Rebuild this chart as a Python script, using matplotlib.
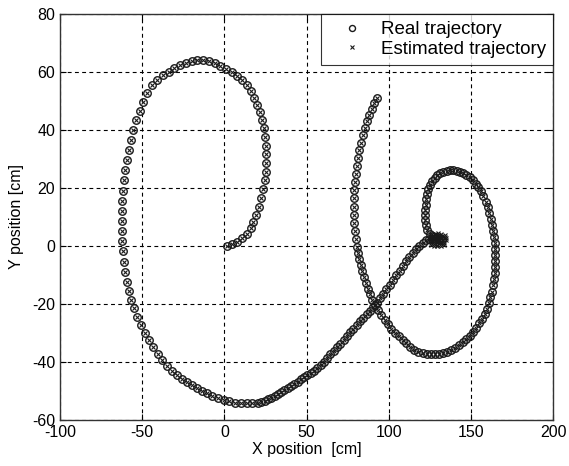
import matplotlib
matplotlib.use("Agg")
import matplotlib.pyplot as plt
import numpy as np

plt.rcParams['font.family'] = ['Liberation Sans', 'DejaVu Sans']
plt.rcParams['axes.unicode_minus'] = False

# real trajectory [cm], in travel order
real_x = [1.6, 4.5, 7.7, 10.5, 13.5, 16, 17.5, 19.5, 21, 22.3, 23.2, 24.5, 25, 25.2, 25.2, 25,
          24.5, 23.8, 22.8, 21.5, 20, 18.2, 16, 13.5, 10.8, 7.8, 4.5, 1, -2.5, -6, -9.5, -13,
          -16.5, -20, -23.5, -27,
          -30.5, -34, -37.5, -41, -44, -47, -49.5, -51.5, -53.5, -55.3, -56.8, -58, -59.2, -60.2,
          -61, -61.6, -62, -62.3, -62.4, -62.3, -62, -61.6, -61, -60.3, -59.4, -58.2, -56.7, -55,
          -53, -51, -48.5, -46, -43.3, -40.5, -37.8, -34.9, -31.8, -28.6, -25.6, -22.5, -19.5,
          -16.5, -13.5, -10.5, -7.3, -4, -0.5, 3, 6.5, 10, 13.5, 17, 20.5,
          22.5, 24.5, 26.5, 28.5, 30.5, 32.5, 34.5, 36.5, 38.5, 40.5, 42.5, 44.5, 46.5, 48.5,
          50.5, 52.5, 54.5, 56.5, 58.5, 60.5, 62.5, 64.5, 66.5, 68.5, 70.5, 72.5, 74.5, 76.5,
          78.5, 80.5, 82.5, 84.5, 86.5, 88.5, 90.5, 92.5, 94.5, 96.5, 98.5, 100.5, 102.5, 104.5,
          106.5, 108.5, 110.5, 112.5, 114.5, 116.5, 118.5, 120.5, 122.5, 124.5,
          126.5, 128.5, 130.5, 132.5, 131, 129, 127, 125, 123.5,
          122.6, 122.2, 122.1, 122.2, 122.5, 122.8, 123.3, 124, 125, 126.3, 127.8, 129.5, 131.3,
          133.2, 135.2, 137.2, 139.2, 141.2, 143.2, 145.2, 147.2, 149.2, 151, 152.8, 154.5, 156,
          157.5, 158.8, 160, 161, 162, 162.8, 163.5, 164, 164.4, 164.7, 164.8, 164.8, 164.6,
          164.3, 163.9, 163.3, 162.6, 161.7, 160.7, 159.5, 158.2, 156.7, 155, 153.2, 151.3,
          149.3, 147.2, 145, 142.7, 140.3, 137.9, 135.5, 133, 130.5, 128, 125.5, 123, 120.5,
          118, 115.5, 113, 110.6, 108.3, 106, 103.8, 101.6, 99.5, 97.4, 95.4, 93.5, 91.7, 90,
          88.5, 87.1, 85.8, 84.7, 83.7, 82.8, 82, 81.3, 80.7, 80, 79.4, 79, 78.8, 78.7, 78.8,
          79.1, 79.5, 80, 80.6, 81.3, 82.1, 83, 84, 85.2, 86.5, 88, 89.6, 91.2, 92.6]
real_y = [0, 0.5, 1.4, 2.6, 4.2, 6, 8.3, 10.6, 13.5, 16.5, 19.5, 22.5, 25.5, 28.5, 31.5, 34.5,
          37.5, 40.5, 43.3, 46, 48.5, 51, 53.3, 55.3, 57, 58.6, 59.9, 61, 62, 63, 63.7, 64,
          64, 63.6, 63, 62.3,
          61.3, 60, 58.8, 57.3, 55.3, 52.5, 49.5, 46.5, 43.3, 40, 36.5, 33, 29.5, 26,
          22.5, 19, 15.5, 12, 8.5, 5, 1.5, -2, -5.5, -9, -12.5, -15.5, -18.6, -21.6,
          -24.5, -27.3, -30, -32.5, -35, -37.3, -39.5, -41.5, -43.2, -44.6, -45.8, -46.9, -48,
          -49.1, -50.1, -50.9, -51.8, -52.6, -53.2, -53.7, -54.1, -54.3, -54.4, -54.4, -54.1,
          -53.8, -53.4, -52.9, -52.4, -51.8, -51.2, -50.6, -49.9, -49.2, -48.5, -47.7, -46.9,
          -46.1, -45.3, -44.5, -43.9, -43.2, -42.3, -41.3, -40.1, -38.8, -37.5, -36.2, -35,
          -33.8, -32.5, -31.2, -29.9, -28.6, -27.3, -26, -24.8, -23.6, -22.4, -21.1, -19.7,
          -18.2, -16.6, -15, -13.4, -11.8, -10.2, -8.6, -7, -5.4, -3.9, -2.5, -1.2, 0, 1, 1.8, 2.2,
          2.3, 2.2, 2.0, 2.0, 2.6, 3, 3.4, 4.2, 5.5,
          7, 8.8, 10.6, 12.4, 14.2, 16, 17.8, 19.5, 21, 22.3, 23.4, 24.3, 25,
          25.5, 25.8, 26, 26, 25.8, 25.4, 25, 24.4, 23.6, 22.6, 21.4, 20.1, 18.7,
          17, 15.2, 13.3, 11.3, 9.3, 7.3, 5.2, 3.1, 1, -1.1, -3.2, -5.3, -7.4,
          -9.5, -11.6, -13.7, -15.8, -17.8, -19.8, -21.7, -23.5, -25.2, -26.8, -28.3, -29.7,
          -31, -32.2, -33.3, -34.3, -35.2, -36, -36.6, -37.1, -37.4, -37.5, -37.5, -37.3, -37,
          -36.6, -35.8, -34.8, -33.7, -32.5, -31.3, -30, -28.6, -27.1, -25.5, -23.9, -22.2, -20.5,
          -18.7, -16.8, -14.9, -12.9, -10.9, -8.9, -6.8, -4.7, -2.6, -0.5, 2.3, 5.1, 7.9, 10.7,
          13.5, 16.3, 19.1, 21.9, 24.7, 27.5, 30.2, 32.9, 35.5, 38, 40.5, 42.9, 45.2, 47.3, 49.3, 51]

# extra estimates scattered while the robot stood still near (130, 2)
pause_x = [125.5, 127.5, 129.5, 131.5, 133.5, 134.5, 134, 132.5, 130.5, 128.5, 126.5, 125,
           127, 129, 131, 133, 132, 130, 128, 126, 124.5, 126, 128, 130, 132, 134, 135, 133.5,
           131.5, 129.5, 127.5, 125.5]
pause_y = [1, 0.6, 0.4, 0.5, 1, 2, 3, 3.4, 3.5, 3.4, 3, 2.2,
           1.6, 1.4, 1.4, 1.8, 2.8, 2.8, 2.6, 1.8, 2.8, 4, 4.2, 4.3, 4, 3.6, 2.6, 0.3,
           -0.1, -0.2, 0, 0.4]

est_x = real_x + pause_x
est_y = real_y + pause_y

fig = plt.figure(figsize=(5.69, 4.66), dpi=100)
ax = fig.add_axes([0.1054, 0.0994, 0.867, 0.8712])

ax.plot(real_x, real_y, linestyle="none", marker="o", markersize=5.4,
        markerfacecolor="none", markeredgecolor="#1a1a1a", markeredgewidth=1.0,
        label="Real trajectory")
ax.plot(est_x, est_y, linestyle="none", marker="x", markersize=3.4,
        color="#1a1a1a", markeredgewidth=0.8, label="Estimated trajectory")

ax.set_xlim(-100, 200)
ax.set_ylim(-60, 80)
ax.set_xticks(np.arange(-100, 201, 50))
ax.set_yticks(np.arange(-60, 81, 20))
ax.grid(True, color="black", linestyle=(0, (3.5, 3)), linewidth=0.8)
ax.tick_params(direction="in", top=True, right=True, length=4, labelsize=11.5, width=0.8)
for s in ax.spines.values():
    s.set_linewidth(1.0)
    s.set_color("#333333")

ax.set_xlabel("X position  [cm]", fontsize=11.5, labelpad=2)
ax.set_ylabel("Y position [cm]", fontsize=11.5, labelpad=6)

leg = ax.legend(loc="upper right", borderaxespad=0, fontsize=13.5, fancybox=False,
                handlelength=2.5, handletextpad=0.3, borderpad=0.4, labelspacing=0.12,
                markerscale=0.8)
leg.get_frame().set_edgecolor("black")
leg.get_frame().set_linewidth(0.8)

fig.savefig("out.png", dpi=100)
